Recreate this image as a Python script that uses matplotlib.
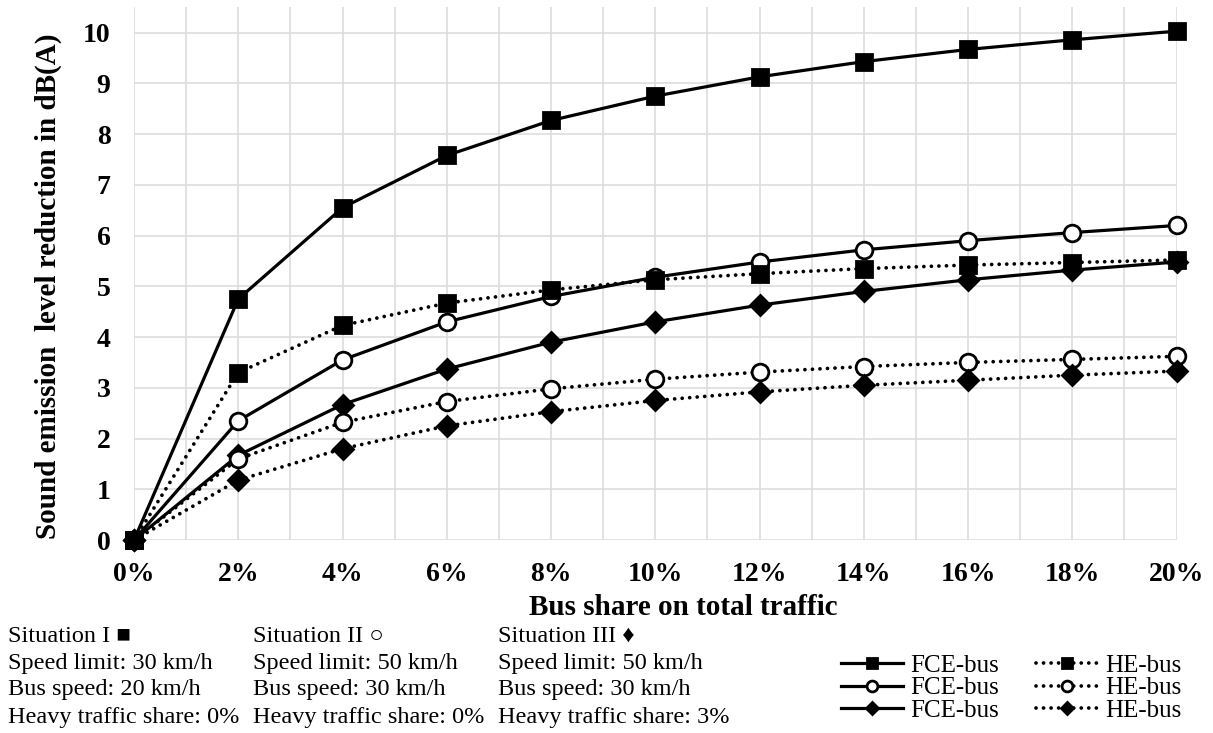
import numpy as np
import matplotlib.pyplot as plt

plt.rcParams['font.family'] = ['Liberation Serif', 'DejaVu Sans']

# Bus share on total traffic (%)
bus_share = [0, 2, 4, 6, 8, 10, 12, 14, 16, 18, 20]

# Sound emission level reduction in dB(A)
fce_1 = [0, 4.75, 6.55, 7.58, 8.27, 8.75, 9.13, 9.43, 9.67, 9.86, 10.03]
he_1 = [0, 3.30, 4.23, 4.67, 4.93, 5.13, 5.25, 5.35, 5.42, 5.47, 5.52]
fce_2 = [0, 2.35, 3.55, 4.30, 4.80, 5.18, 5.48, 5.72, 5.90, 6.06, 6.20]
he_2 = [0, 1.60, 2.32, 2.73, 2.98, 3.17, 3.31, 3.42, 3.50, 3.56, 3.62]
fce_3 = [0, 1.67, 2.67, 3.37, 3.90, 4.30, 4.63, 4.90, 5.13, 5.32, 5.48]
he_3 = [0, 1.18, 1.80, 2.25, 2.53, 2.75, 2.92, 3.05, 3.15, 3.25, 3.33]

situations = [
    ['Situation I \u25a0', 'Speed limit: 30 km/h', 'Bus speed: 20 km/h', 'Heavy traffic share: 0%'],
    ['Situation II \u25cb', 'Speed limit: 50 km/h', 'Bus speed: 30 km/h', 'Heavy traffic share: 0%'],
    ['Situation III \u2666', 'Speed limit: 50 km/h', 'Bus speed: 30 km/h', 'Heavy traffic share: 3%'],
]

fig = plt.figure(figsize=(12.13, 7.33), dpi=100)
ax = fig.add_axes([0.1105, 0.2633, 0.8595, 0.7267])

dot = (0, (0.01, 2.0))
series = [
    (fce_1, '-', 's', 'black', 12, 'FCE-bus'),
    (fce_2, '-', 'o', 'white', 12, 'FCE-bus'),
    (fce_3, '-', 'D', 'black', 10, 'FCE-bus'),
    (he_1, dot, 's', 'black', 12, 'HE-bus'),
    (he_2, dot, 'o', 'white', 12, 'HE-bus'),
    (he_3, dot, 'D', 'black', 10, 'HE-bus'),
]
handles = []
for y, ls, mk, fc, ms, lab in series:
    lw = 2.3 if ls == '-' else 2.7
    h, = ax.plot(bus_share, y, linestyle=ls, linewidth=lw, color='black',
                 marker=mk, markersize=ms, markerfacecolor=fc,
                 markeredgecolor='black', markeredgewidth=2,
                 dash_capstyle='round', clip_on=False, zorder=3, label=lab)
    handles.append(h)

ax.set_xlim(0, 20)
ax.set_ylim(0, 10.5)
ax.set_xticks(bus_share)
ax.set_xticks(range(1, 20, 2), minor=True)
ax.set_xticklabels(['%d%%' % v for v in bus_share], fontweight='bold', fontsize=20)
ax.set_yticks(range(0, 11))
ax.set_yticklabels([str(v) for v in range(0, 11)], fontweight='bold', fontsize=20)
ax.tick_params(axis='x', which='both', length=0, pad=16)
ax.tick_params(axis='y', which='both', length=0, pad=17)
ax.grid(True, which='both', color='#dddddd', linewidth=1.2)
ax.set_axisbelow(True)
for s in ax.spines.values():
    s.set_visible(False)

ax.set_ylabel('Sound emission  level reduction in dB(A)', fontweight='bold', fontsize=21)
ax.yaxis.set_label_coords(-0.0687, 0.477)
ax.set_xlabel('Bus share on total traffic', fontweight='bold', fontsize=21)
ax.xaxis.set_label_coords(0.527, -0.102)

col_x = [8, 253, 498]
row_y = [636, 664, 690, 717]
for cx, lines in zip(col_x, situations):
    for ry, t in zip(row_y, lines):
        fig.text(cx / 1213, 1 - ry / 733, t, fontsize=17.5, va='center', ha='left')

leg = fig.legend(handles=handles, ncol=2, loc='center', bbox_to_anchor=(1011 / 1213, 1 - 688 / 733),
                 frameon=False, fontsize=18, markerscale=0.65, handlelength=2.5,
                 columnspacing=1.5, handletextpad=0.25, labelspacing=0.0)

fig.savefig('out.png', dpi=100)
